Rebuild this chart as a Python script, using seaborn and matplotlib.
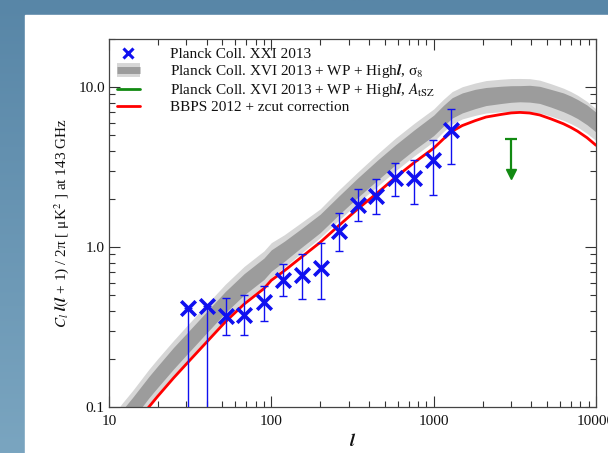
import numpy as np
import pandas as pd
import matplotlib
matplotlib.use("Agg")
import matplotlib.pyplot as plt
import seaborn as sns
from matplotlib.lines import Line2D
from matplotlib.legend_handler import HandlerTuple

# ---------------- data ----------------
# Planck Coll. XXI 2013 measurements
data_l = [30.6, 39.9, 52.2, 68.0, 89.5, 118.6, 153.7, 201.3, 262.2, 341.5, 440.0, 576.5, 759.0, 984.0, 1281.0]
data_y = [0.414, 0.429, 0.371, 0.375, 0.454, 0.623, 0.666, 0.743, 1.264, 1.836, 2.08, 2.71, 2.71, 3.49, 5.42]
data_hi = [0.414, 0.429, 0.483, 0.500, 0.571, 0.780, 0.904, 1.054, 1.637, 2.31, 2.66, 3.36, 3.52, 4.65, 7.26]
data_lo = [0.001, 0.001, 0.283, 0.283, 0.345, 0.492, 0.474, 0.474, 0.949, 1.46, 1.61, 2.08, 1.85, 2.13, 3.29]

# Planck XVI + WP + highL, A_tSZ upper limit
lim_l = [3000.0]
lim_top = [4.74]
lim_tip = [2.85]

# Model curves
model_l = [11, 12, 14, 17.6, 20, 25, 30, 40, 52, 68, 90, 100, 120, 150, 200, 260, 340, 450,
           580, 760, 1000, 1150, 1300, 1500, 1800, 2100, 2600, 3000, 3400, 3900, 4500, 5300,
           6300, 7000, 7700, 8800, 10000]
bbps = [0.054, 0.061, 0.074, 0.100, 0.117, 0.152, 0.186, 0.255, 0.340, 0.440, 0.550, 0.620,
        0.710, 0.850, 1.07, 1.36, 1.73, 2.18, 2.72, 3.38, 4.15, 4.75, 5.30, 5.75, 6.17, 6.50,
        6.75, 6.90, 6.95, 6.89, 6.70, 6.32, 5.90, 5.60, 5.30, 4.83, 4.33]
sig8_light_lo = [0.056, 0.063, 0.077, 0.104, 0.122, 0.158, 0.193, 0.265, 0.354, 0.458, 0.572, 0.645,
                 0.746, 0.901, 1.145, 1.469, 1.886, 2.40, 2.99, 3.72, 4.57, 5.27, 5.88, 6.33, 6.66,
                 6.89, 7.02, 7.04, 7.02, 7.03, 6.90, 6.57, 6.20, 5.91, 5.62, 5.14, 4.63]
sig8_dark_lo = [0.062, 0.070, 0.084, 0.114, 0.133, 0.173, 0.212, 0.291, 0.388, 0.502, 0.627, 0.707,
                0.813, 0.978, 1.231, 1.591, 2.041, 2.62, 3.26, 4.06, 4.98, 5.72, 6.41, 6.90, 7.34,
                7.67, 7.90, 8.04, 8.10, 8.06, 7.91, 7.49, 7.02, 6.69, 6.36, 5.82, 5.24]
sig8_dark_hi = [0.084, 0.095, 0.115, 0.155, 0.181, 0.236, 0.288, 0.395, 0.527, 0.682, 0.853, 0.961,
                1.086, 1.284, 1.605, 2.081, 2.699, 3.49, 4.35, 5.41, 6.68, 7.70, 8.59, 9.20, 9.69,
                9.95, 10.13, 10.21, 10.22, 10.27, 10.12, 9.67, 9.20, 8.79, 8.37, 7.73, 6.97]
sig8_light_hi = [0.093, 0.105, 0.127, 0.172, 0.201, 0.261, 0.320, 0.439, 0.585, 0.757, 0.946, 1.066,
                 1.193, 1.403, 1.733, 2.271, 2.941, 3.82, 4.79, 5.95, 7.30, 8.41, 9.38, 10.06, 10.61,
                 10.99, 11.21, 11.32, 11.33, 11.30, 11.06, 10.49, 9.85, 9.38, 8.90, 8.14, 7.32]

xticks = [10, 100, 1000, 10000]
xticklabels = ["10", "100", "1000", "10000"]
yticks = [0.1, 1.0, 10.0]
yticklabels = ["0.1", "1.0", "10.0"]

labels = ["Planck Coll. XXI 2013",
          r"Planck Coll. XVI 2013 + WP + High$\mathbfit{l}$, σ$_8$",
          r"Planck Coll. XVI 2013 + WP + High$\mathbfit{l}$, $A_{\mathrm{tSZ}}$",
          "BBPS 2012 + zcut correction"]

# ---------------- style ----------------
sns.set_theme(style="ticks")
plt.rcParams["font.family"] = ["Liberation Serif", "DejaVu Serif"]
plt.rcParams["mathtext.fontset"] = "stix"

BLUE = "#1010f0"
RED = "#ff0000"
GREEN = "#128a12"
LIGHT = "#d6d6d6"
DARK = "#9c9c9c"

fig = plt.figure(figsize=(6.08, 4.53), dpi=100)

# slide background
bg = fig.add_axes([0, 0, 1, 1], zorder=-10)
grad = np.linspace(0, 1, 256).reshape(-1, 1)
cmap = matplotlib.colors.LinearSegmentedColormap.from_list("bgc", ["#5886a7", "#7aa5c0"])
bg.imshow(grad, aspect="auto", cmap=cmap, extent=[0, 1, 0, 1], origin="upper")
bg.add_patch(plt.Rectangle((25 / 608, 0), 1, 1 - 15 / 453, color="white"))
bg.set_xlim(0, 1)
bg.set_ylim(0, 1)
bg.axis("off")

ax = fig.add_axes([109 / 608, 1 - 407 / 453, 487 / 608, 368 / 453])
ax.set_facecolor("white")
ax.set_xscale("log")
ax.set_yscale("log")

# bands
ax.fill_between(model_l, sig8_light_lo, sig8_light_hi, color=LIGHT, lw=0, zorder=1)
ax.fill_between(model_l, sig8_dark_lo, sig8_dark_hi, color=DARK, lw=0, zorder=2)

# BBPS model
df_model = pd.DataFrame({"l": model_l, "v": bbps})
sns.lineplot(data=df_model, x="l", y="v", color=RED, lw=2.0, ax=ax, zorder=3, sort=False)

# data points
df = pd.DataFrame({"l": data_l, "v": data_y, "hi": data_hi, "lo": data_lo})
yerr = np.vstack([df["v"] - df["lo"], df["hi"] - df["v"]])
ax.errorbar(df["l"], df["v"], yerr=yerr, fmt="none", ecolor=BLUE, elinewidth=1.0,
            capsize=3, capthick=1.0, zorder=4)
sns.scatterplot(data=df, x="l", y="v", marker="x", s=110, color=BLUE, linewidth=2.6,
                ax=ax, zorder=5, legend=False)

# upper limit
for xl, yt, yb in zip(lim_l, lim_top, lim_tip):
    ax.plot([xl, xl], [yt, yb * 1.05], color=GREEN, lw=1.6, zorder=5)
    ax.plot([xl], [yt], marker="_", ms=8, mew=1.6, color=GREEN, zorder=5)
    ax.plot([xl], [yb], marker="v", ms=7, color=GREEN, mec=GREEN, zorder=5)

ax.set_xlim(10, 10000)
ax.set_ylim(0.1, 20)
ax.set_xticks(xticks)
ax.set_xticklabels(xticklabels)
ax.set_yticks(yticks)
ax.set_yticklabels(yticklabels)
ax.xaxis.set_minor_locator(matplotlib.ticker.LogLocator(base=10, subs=np.arange(2, 10)))
ax.yaxis.set_minor_locator(matplotlib.ticker.LogLocator(base=10, subs=np.arange(2, 10)))
ax.xaxis.set_minor_formatter(matplotlib.ticker.NullFormatter())
ax.yaxis.set_minor_formatter(matplotlib.ticker.NullFormatter())
ax.tick_params(which="both", direction="in", top=True, right=True, colors="#333333",
               labelcolor="#111111", labelsize=11, width=0.8)
ax.tick_params(which="major", length=8)
ax.tick_params(which="minor", length=4)
ax.tick_params(axis="x", pad=6)
ax.tick_params(axis="y", pad=3)
for s in ax.spines.values():
    s.set_color("#444444")
    s.set_linewidth(0.9)

ax.set_xlabel(r"$\mathbfit{l}$", fontsize=13, labelpad=3, color="#111111")
ax.set_ylabel(r"$C_l\ \mathbfit{l}(\mathbfit{l}$ + 1) / 2π [ μK$^2$ ] at 143 GHz",
              fontsize=11, labelpad=5, color="#111111")

# legend
h_data = Line2D([], [], ls="none", marker="x", ms=7, mew=2.2, color=BLUE)
h_band = (Line2D([], [], color=LIGHT, lw=10, solid_capstyle="butt"),
          Line2D([], [], color=DARK, lw=5, solid_capstyle="butt"))
h_green = Line2D([], [], color=GREEN, lw=2)
h_red = Line2D([], [], color=RED, lw=2)
leg = ax.legend([h_data, h_band, h_green, h_red], labels, loc="upper left",
                bbox_to_anchor=(0.0, 0.997), frameon=False, fontsize=11,
                handlelength=1.5, handletextpad=2.0, labelspacing=0.06,
                borderaxespad=0.2, borderpad=0.3,
                handler_map={tuple: HandlerTuple(ndivide=1, pad=0)})
for t in leg.get_texts():
    t.set_color("#111111")

fig.savefig("out.png", dpi=100)
